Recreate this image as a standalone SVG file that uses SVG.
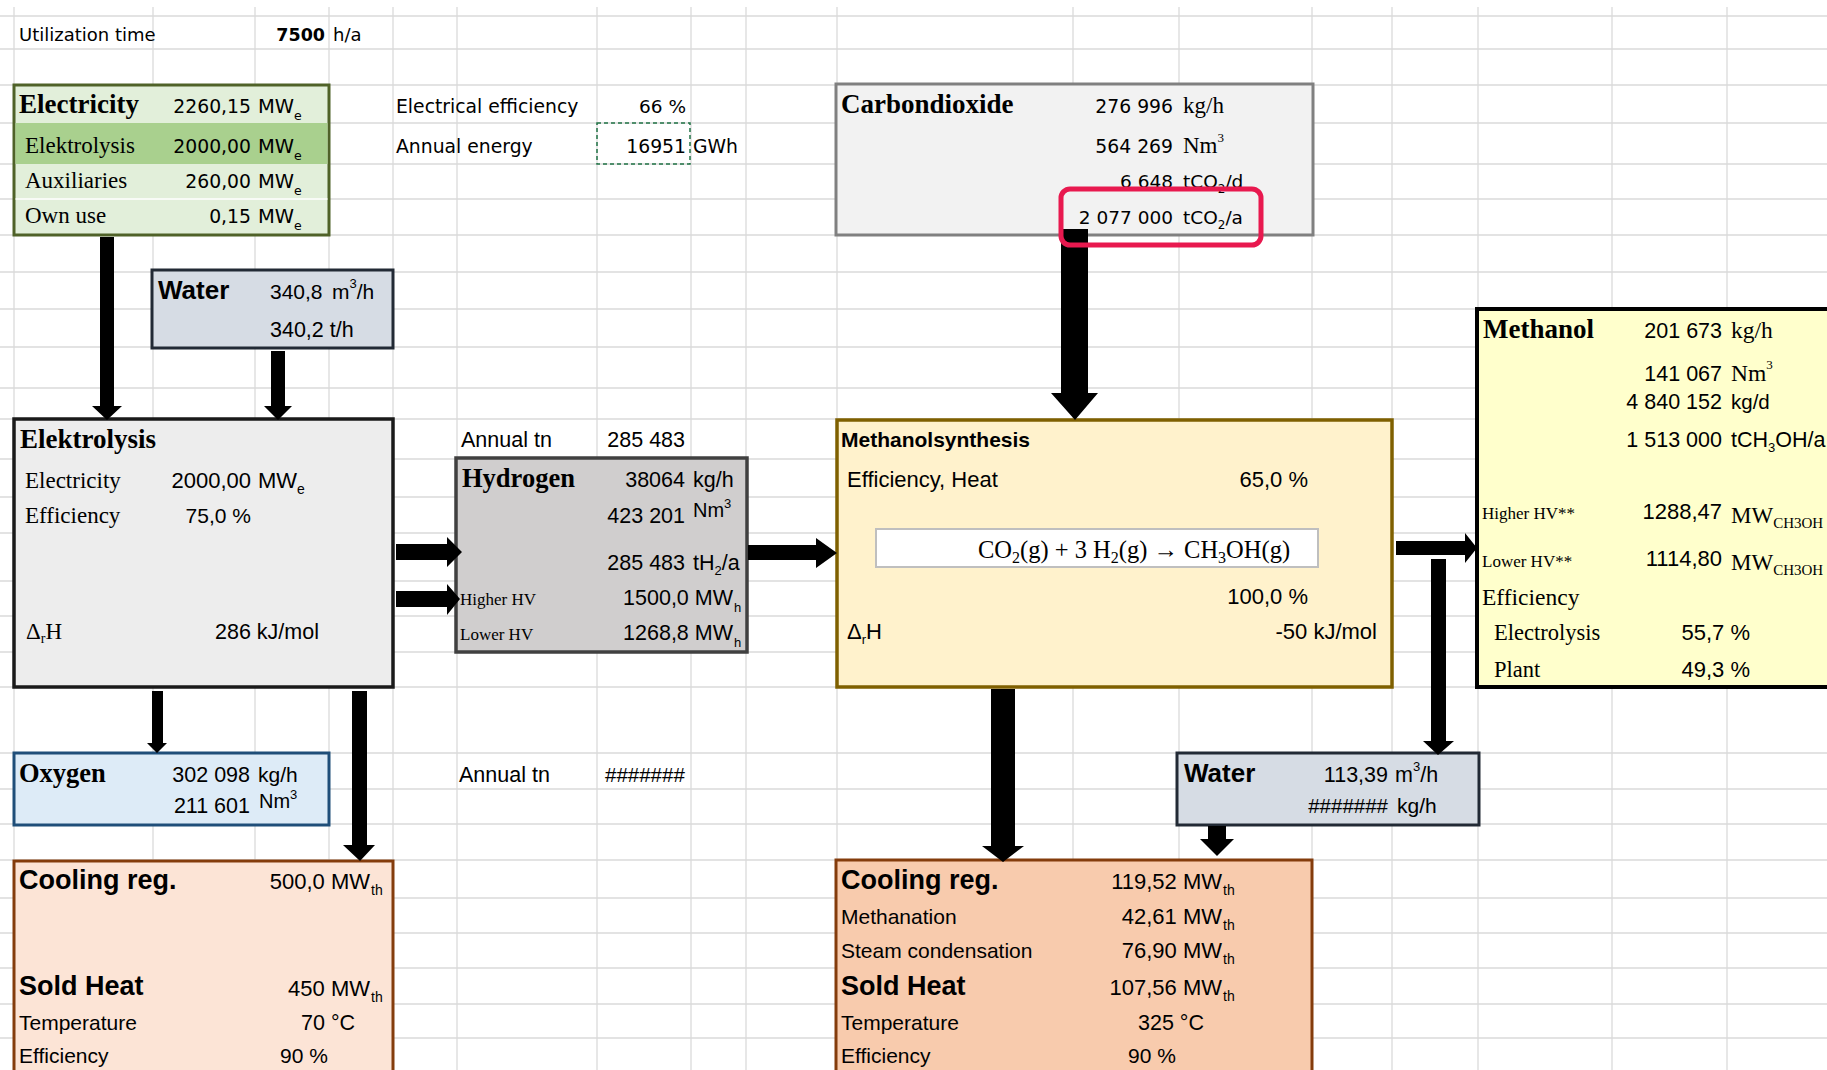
<svg xmlns="http://www.w3.org/2000/svg" width="1827" height="1070" viewBox="0 0 1827 1070">
  <style>
    text { font-family: "Liberation Sans", Arial, sans-serif; fill: #000; }
    .dv { font-family: "DejaVu Sans", Verdana, sans-serif; }
    .tm { font-family: "Liberation Serif", "Times New Roman", serif; }
    .b { font-weight: bold; }
    .e { text-anchor: end; }
    .grid line { stroke: #dadada; stroke-width: 1.3; }
    .box { stroke-width: 3; }
    .arrow { fill: #000; }
  </style>

  <rect width="1827" height="1070" fill="#ffffff"/>

  <!-- worksheet cell grid -->
  <g class="grid" id="grid">
    <line x1="14" y1="7" x2="14" y2="1070"/>
    <line x1="153" y1="7" x2="153" y2="1070"/>
    <line x1="255" y1="7" x2="255" y2="1070"/>
    <line x1="329" y1="7" x2="329" y2="1070"/>
    <line x1="393" y1="7" x2="393" y2="1070"/>
    <line x1="457" y1="7" x2="457" y2="1070"/>
    <line x1="597" y1="7" x2="597" y2="1070"/>
    <line x1="691" y1="7" x2="691" y2="1070"/>
    <line x1="746" y1="7" x2="746" y2="1070"/>
    <line x1="837" y1="7" x2="837" y2="1070"/>
    <line x1="1073" y1="7" x2="1073" y2="1070"/>
    <line x1="1179" y1="7" x2="1179" y2="1070"/>
    <line x1="1312" y1="7" x2="1312" y2="1070"/>
    <line x1="1392" y1="7" x2="1392" y2="1070"/>
    <line x1="1478" y1="7" x2="1478" y2="1070"/>
    <line x1="1612" y1="7" x2="1612" y2="1070"/>
    <line x1="1727" y1="7" x2="1727" y2="1070"/>
    <line x1="0" y1="16" x2="1827" y2="16"/>
    <line x1="0" y1="49" x2="1827" y2="49"/>
    <line x1="0" y1="85" x2="1827" y2="85"/>
    <line x1="0" y1="123" x2="1827" y2="123"/>
    <line x1="0" y1="164" x2="1827" y2="164"/>
    <line x1="0" y1="199" x2="1827" y2="199"/>
    <line x1="0" y1="235" x2="1827" y2="235"/>
    <line x1="0" y1="272" x2="1827" y2="272"/>
    <line x1="0" y1="309" x2="1827" y2="309"/>
    <line x1="0" y1="347" x2="1827" y2="347"/>
    <line x1="0" y1="388" x2="1827" y2="388"/>
    <line x1="0" y1="419" x2="1827" y2="419"/>
    <line x1="0" y1="459" x2="1827" y2="459"/>
    <line x1="0" y1="497" x2="1827" y2="497"/>
    <line x1="0" y1="533" x2="1827" y2="533"/>
    <line x1="0" y1="581" x2="1827" y2="581"/>
    <line x1="0" y1="616" x2="1827" y2="616"/>
    <line x1="0" y1="652" x2="1827" y2="652"/>
    <line x1="0" y1="687" x2="1827" y2="687"/>
    <line x1="0" y1="753" x2="1827" y2="753"/>
    <line x1="0" y1="789" x2="1827" y2="789"/>
    <line x1="0" y1="824" x2="1827" y2="824"/>
    <line x1="0" y1="860" x2="1827" y2="860"/>
    <line x1="0" y1="898" x2="1827" y2="898"/>
    <line x1="0" y1="933" x2="1827" y2="933"/>
    <line x1="0" y1="968" x2="1827" y2="968"/>
    <line x1="0" y1="1004" x2="1827" y2="1004"/>
    <line x1="0" y1="1038" x2="1827" y2="1038"/>
  </g>

  <!-- loose cells -->
  <g id="utilization">
    <text class="dv" font-size="18" x="19" y="41">Utilization time</text>
    <text class="dv b e" font-size="17.5" x="325" y="41">7500</text>
    <text class="dv" font-size="18" x="333" y="41">h/a</text>
  </g>
  <g id="efficiency-cells">
    <text class="dv" font-size="18.8" x="396" y="113">Electrical efficiency</text>
    <text class="dv e" font-size="18.5" x="686" y="113">66 %</text>
    <text class="dv" font-size="18.8" x="396" y="153">Annual energy</text>
    <rect x="597" y="123" width="93" height="41" fill="none" stroke="#217346" stroke-width="1.5" stroke-dasharray="4 3"/>
    <text class="dv e" font-size="18.8" x="686" y="153">16951</text>
    <text class="dv" font-size="18.8" x="693" y="153">GWh</text>
  </g>

  <!-- Electricity -->
  <g id="electricity">
    <rect class="box" x="14" y="85" width="315" height="150" fill="#e2efda" stroke="#4f6228"/>
    <rect x="15.5" y="123" width="312" height="41" fill="#a9d08e"/>
    <line x1="15.5" y1="199" x2="327.5" y2="199" stroke="#ffffff" stroke-width="1.3"/>
    <text class="tm b" font-size="27" x="19" y="113">Electricity</text>
    <text class="dv e" font-size="18.8" x="251" y="113">2260,15</text>
    <text class="dv" font-size="19.5" x="258" y="113">MW<tspan font-size="12.5" dy="7">e</tspan></text>
    <text class="tm" font-size="23" x="25" y="153">Elektrolysis</text>
    <text class="dv e" font-size="18.8" x="251" y="153">2000,00</text>
    <text class="dv" font-size="19.5" x="258" y="153">MW<tspan font-size="12.5" dy="7">e</tspan></text>
    <text class="tm" font-size="23" x="25" y="188">Auxiliaries</text>
    <text class="dv e" font-size="18.8" x="251" y="188">260,00</text>
    <text class="dv" font-size="19.5" x="258" y="188">MW<tspan font-size="12.5" dy="7">e</tspan></text>
    <text class="tm" font-size="23" x="25" y="223">Own use</text>
    <text class="dv e" font-size="18.8" x="251" y="223">0,15</text>
    <text class="dv" font-size="19.5" x="258" y="223">MW<tspan font-size="12.5" dy="7">e</tspan></text>
  </g>

  <!-- Water feed -->
  <g id="water-feed">
    <rect class="box" x="152" y="270" width="241" height="78" fill="#d6dce4" stroke="#222a35"/>
    <text class="b" font-size="26" x="158" y="299">Water</text>
    <text font-size="21" x="270" y="299">340,8</text>
    <text font-size="21" x="332" y="299">m<tspan font-size="13" dy="-11">3</tspan><tspan dy="11">/h</tspan></text>
    <text font-size="21.5" x="270" y="337">340,2 t/h</text>
  </g>

  <!-- Carbondioxide -->
  <g id="carbondioxide">
    <rect class="box" x="836" y="84" width="477" height="151" fill="#f2f2f2" stroke="#808080"/>
    <text class="tm b" font-size="27" x="841" y="113">Carbondioxide</text>
    <text class="dv e" font-size="18.8" x="1173" y="113">276 996</text>
    <text class="tm" font-size="23" x="1183" y="113">kg/h</text>
    <text class="dv e" font-size="18.8" x="1173" y="153">564 269</text>
    <text class="tm" font-size="23" x="1183" y="153">Nm<tspan font-size="13" dy="-11">3</tspan></text>
    <text class="dv e" font-size="18.5" x="1173" y="188">6 648</text>
    <text class="dv" font-size="18.5" x="1183" y="188">tCO<tspan font-size="12" dy="5">2</tspan><tspan dy="-5">/d</tspan></text>
    <text class="dv e" font-size="18.5" x="1173" y="224">2 077 000</text>
    <text class="dv" font-size="18.5" x="1183" y="224">tCO<tspan font-size="12" dy="5">2</tspan><tspan dy="-5">/a</tspan></text>
  </g>

  <!-- Elektrolysis -->
  <g id="elektrolysis">
    <rect x="14" y="419" width="379" height="268" fill="#ededed" stroke="#1a1a1a" stroke-width="3.5"/>
    <text class="tm b" font-size="27" x="20" y="448">Elektrolysis</text>
    <text class="tm" font-size="23" x="25" y="488">Electricity</text>
    <text class="e" font-size="22" x="251" y="488">2000,00</text>
    <text font-size="22" x="258" y="488">MW<tspan font-size="14" dy="6">e</tspan></text>
    <text class="tm" font-size="23" x="25" y="523">Efficiency</text>
    <text class="e" font-size="21" x="251" y="523">75,0 %</text>
    <text class="tm" font-size="23" x="26" y="639">Δ<tspan font-size="14" dy="4">r</tspan><tspan dy="-4">H</tspan></text>
    <text font-size="21.5" x="215" y="639">286 kJ/mol</text>
  </g>

  <!-- Hydrogen -->
  <g id="hydrogen">
    <text font-size="21.5" x="461" y="447">Annual tn</text>
    <text class="e" font-size="21.5" x="685" y="447">285 483</text>
    <rect x="456" y="458" width="291" height="194" fill="#d0cece" stroke="#404040" stroke-width="3.5"/>
    <text class="tm b" font-size="26.5" x="462" y="487">Hydrogen</text>
    <text class="e" font-size="21.5" x="685" y="487">38064</text>
    <text font-size="21.5" x="693" y="487">kg/h</text>
    <text class="e" font-size="21.5" x="685" y="523">423 201</text>
    <text font-size="20" x="693" y="517">Nm<tspan font-size="13" dy="-9">3</tspan></text>
    <text class="e" font-size="21.5" x="685" y="570">285 483</text>
    <text font-size="21.5" x="693" y="570">tH<tspan font-size="13" dy="5">2</tspan><tspan dy="-5">/a</tspan></text>
    <text class="tm" font-size="17" x="460" y="605">Higher HV</text>
    <text class="e" font-size="21.5" x="733" y="605">1500,0 MW</text>
    <text font-size="13" x="734" y="612">h</text>
    <text class="tm" font-size="17" x="460" y="640">Lower HV</text>
    <text class="e" font-size="21.5" x="733" y="640">1268,8 MW</text>
    <text font-size="13" x="734" y="647">h</text>
  </g>

  <!-- Oxygen -->
  <g id="oxygen">
    <rect class="box" x="14" y="753" width="315" height="72" fill="#ddebf7" stroke="#1f4e79"/>
    <text class="tm b" font-size="26.5" x="19" y="782">Oxygen</text>
    <text class="e" font-size="21.5" x="250" y="782">302 098</text>
    <text font-size="21" x="258" y="782">kg/h</text>
    <text class="e" font-size="21.5" x="250" y="813">211 601</text>
    <text font-size="20" x="259" y="808">Nm<tspan font-size="13" dy="-9">3</tspan></text>
  </g>

  <g id="annual-oxygen">
    <text font-size="21.5" x="459" y="782">Annual tn</text>
    <text font-size="20.5" x="605" y="782">#######</text>
  </g>

  <!-- Cooling / sold heat of the electrolysis -->
  <g id="cooling-electrolysis">
    <rect class="box" x="14" y="861" width="379" height="220" fill="#fce4d6" stroke="#843c0c"/>
    <text class="b" font-size="27" x="19" y="889">Cooling reg.</text>
    <text class="e" font-size="22" x="370" y="889">500,0 MW</text>
    <text font-size="14" x="371" y="895">th</text>
    <text class="b" font-size="27" x="19" y="995">Sold Heat</text>
    <text class="e" font-size="22" x="370" y="996">450 MW</text>
    <text font-size="14" x="371" y="1002">th</text>
    <text font-size="21" x="19" y="1030">Temperature</text>
    <text font-size="21.5" x="301" y="1030">70 °C</text>
    <text font-size="21" x="19" y="1063">Efficiency</text>
    <text font-size="21" x="280" y="1063">90 %</text>
  </g>

  <!-- Methanol synthesis -->
  <g id="methanolsynthesis">
    <rect x="837" y="420" width="555" height="267" fill="#fff2cc" stroke="#7f6000" stroke-width="3.5"/>
    <text class="b" font-size="21" x="841" y="447">Methanolsynthesis</text>
    <text font-size="22" x="847" y="487">Efficiency, Heat</text>
    <text class="e" font-size="22" x="1308" y="487">65,0 %</text>
    <rect x="876" y="529" width="442" height="38" fill="#ffffff" stroke="#bfbfbf" stroke-width="2"/>
    <text class="tm" font-size="24.5" x="978" y="558">CO<tspan font-size="16" dy="5">2</tspan><tspan dy="-5">(g) + 3 H</tspan><tspan font-size="16" dy="5">2</tspan><tspan dy="-5">(g) → CH</tspan><tspan font-size="16" dy="5">3</tspan><tspan dy="-5">OH(g)</tspan></text>
    <text class="e" font-size="22" x="1308" y="604">100,0 %</text>
    <text font-size="22" x="847" y="639">Δ<tspan font-size="13" dy="5">r</tspan><tspan dy="-5">H</tspan></text>
    <text class="e" font-size="22" x="1377" y="639">-50 kJ/mol</text>
  </g>

  <!-- Methanol product -->
  <g id="methanol">
    <rect x="1477" y="309" width="360" height="378" fill="#ffffcc" stroke="#000000" stroke-width="4"/>
    <text class="tm b" font-size="27" x="1483" y="338">Methanol</text>
    <text class="e" font-size="21.5" x="1722" y="338">201 673</text>
    <text class="tm" font-size="23.5" x="1731" y="338">kg/h</text>
    <text class="e" font-size="21.5" x="1722" y="381">141 067</text>
    <text class="tm" font-size="23.5" x="1731" y="381">Nm<tspan font-size="13" dy="-12">3</tspan></text>
    <text class="e" font-size="21.5" x="1722" y="409">4 840 152</text>
    <text font-size="20.5" x="1731" y="409">kg/d</text>
    <text class="e" font-size="21.5" x="1722" y="447">1 513 000</text>
    <text font-size="21.5" x="1731" y="447">tCH<tspan font-size="13" dy="5">3</tspan><tspan dy="-5">OH/a</tspan></text>
    <text class="tm" font-size="17" x="1482" y="519">Higher HV**</text>
    <text class="e" font-size="22" x="1722" y="519">1288,47</text>
    <text class="tm" font-size="23" x="1731" y="523">MW<tspan font-size="15" dy="5">CH3OH</tspan></text>
    <text class="tm" font-size="17" x="1482" y="567">Lower HV**</text>
    <text class="e" font-size="22" x="1722" y="566">1114,80</text>
    <text class="tm" font-size="23" x="1731" y="570">MW<tspan font-size="15" dy="5">CH3OH</tspan></text>
    <text class="tm" font-size="23.5" x="1482" y="605">Efficiency</text>
    <text class="tm" font-size="22.5" x="1494" y="640">Electrolysis</text>
    <text class="e" font-size="22" x="1750" y="640">55,7 %</text>
    <text class="tm" font-size="22.5" x="1494" y="677">Plant</text>
    <text class="e" font-size="22" x="1750" y="677">49,3 %</text>
  </g>

  <!-- Water from the synthesis -->
  <g id="water-synthesis">
    <rect class="box" x="1177" y="753" width="302" height="72" fill="#d6dce4" stroke="#222a35"/>
    <text class="b" font-size="26" x="1184" y="782">Water</text>
    <text class="e" font-size="21.5" x="1388" y="782">113,39</text>
    <text font-size="21.5" x="1395" y="782">m<tspan font-size="13" dy="-11">3</tspan><tspan dy="11">/h</tspan></text>
    <text class="e" font-size="20.5" x="1388" y="813">#######</text>
    <text font-size="21" x="1397" y="813">kg/h</text>
  </g>

  <!-- Cooling / sold heat of the synthesis -->
  <g id="cooling-synthesis">
    <rect class="box" x="836" y="860" width="476" height="220" fill="#f8cbad" stroke="#843c0c"/>
    <text class="b" font-size="27" x="841" y="889">Cooling reg.</text>
    <text class="e" font-size="22" x="1222" y="889">119,52 MW</text>
    <text font-size="14" x="1223" y="895">th</text>
    <text font-size="21" x="841" y="924">Methanation</text>
    <text class="e" font-size="22" x="1222" y="924">42,61 MW</text>
    <text font-size="14" x="1223" y="930">th</text>
    <text font-size="21" x="841" y="958">Steam condensation</text>
    <text class="e" font-size="22" x="1222" y="958">76,90 MW</text>
    <text font-size="14" x="1223" y="964">th</text>
    <text class="b" font-size="27" x="841" y="995">Sold Heat</text>
    <text class="e" font-size="22" x="1222" y="995">107,56 MW</text>
    <text font-size="14" x="1223" y="1001">th</text>
    <text font-size="21" x="841" y="1030">Temperature</text>
    <text font-size="21.5" x="1138" y="1030">325 °C</text>
    <text font-size="21" x="841" y="1063">Efficiency</text>
    <text font-size="21" x="1128" y="1063">90 %</text>
  </g>

  <!-- flow arrows -->
  <g id="connectors" class="arrow">
    <polygon points="100,237 114,237 114,406 122,406 107,420 92,406 100,406"/>
    <polygon points="271,351 285,351 285,406 292,406 278,420 264,406 271,406"/>
    <polygon points="396,544 447,544 447,537 462,552 447,567 447,560 396,560"/>
    <polygon points="396,591 447,591 447,584 460,599 447,615 447,607 396,607"/>
    <polygon points="748,545 816,545 816,538 837,553 816,568 816,560 748,560"/>
    <polygon points="1061,229 1088,229 1088,393 1098,393 1075,420 1051,393 1061,393"/>
    <polygon points="1396,541 1465,541 1465,533 1477,548 1465,563 1465,555 1396,555"/>
    <polygon points="1431,559 1446,559 1446,741 1454,741 1438,755 1423,741 1431,741"/>
    <polygon points="991,689 1015,689 1015,846 1024,846 1003,862 982,846 991,846"/>
    <polygon points="1208,826 1226,826 1226,839 1234,839 1217,856 1200,839 1208,839"/>
    <polygon points="152,691 163,691 163,743 167,743 157,753 147,743 152,743"/>
    <polygon points="352,691 367,691 367,845 375,845 360,861 343,845 352,845"/>
  </g>

  <!-- highlight around the annual CO2 figure -->
  <g id="co2-highlight">
    <rect x="1061" y="189" width="200" height="56" rx="9" fill="none" stroke="#e8194f" stroke-width="5"/>
  </g>
</svg>
